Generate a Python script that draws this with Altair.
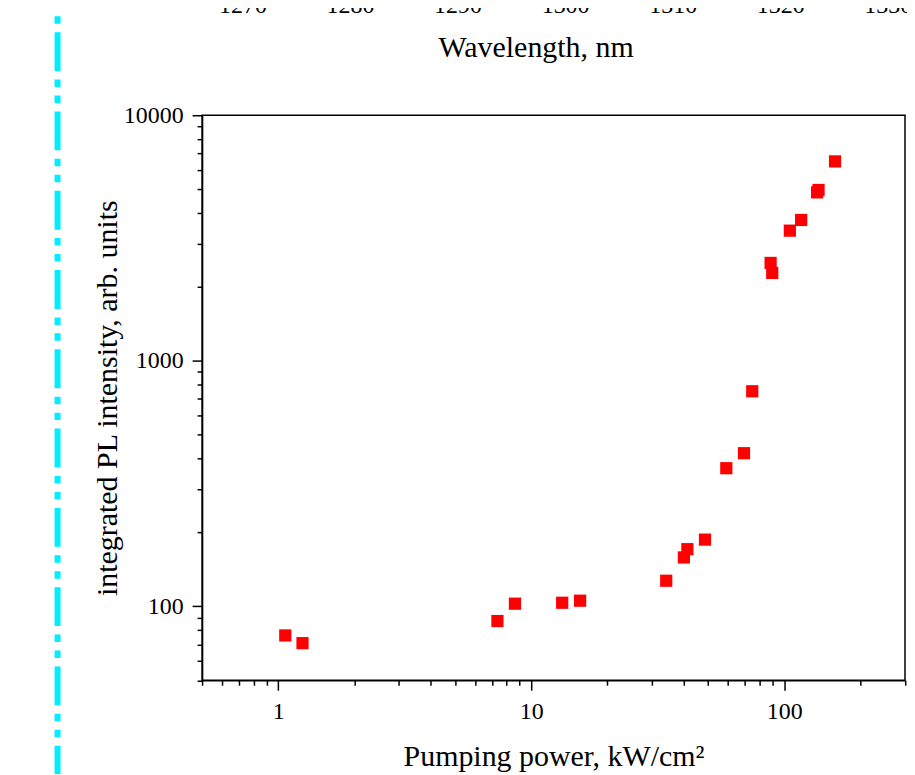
import altair as alt
import pandas as pd

# ---- data ----
power = [1.066, 1.247, 7.35, 8.62, 13.25, 15.60, 34.15, 40.1, 41.4, 48.6,
         59.0, 69.3, 74.7, 88.3, 89.6, 105.2, 116.6, 134.8, 136.6, 158.7]
intensity = [76.1, 70.8, 87.1, 102.5, 103.4, 105.4, 127.1, 158.1, 170.9, 186.9,
             365.1, 420.3, 751.3, 2503, 2279, 3388, 3745, 4851, 4962, 6486]

x_ticks = [0.5, 0.6, 0.7, 0.8, 0.9,
           1, 2, 3, 4, 5, 6, 7, 8, 9,
           10, 20, 30, 40, 50, 60, 70, 80, 90,
           100, 200, 300]
y_ticks = [50, 60, 70, 80, 90,
           100, 200, 300, 400, 500, 600, 700, 800, 900,
           1000, 2000, 3000, 4000, 5000, 6000, 7000, 8000, 9000,
           10000]
wavelength_ticks = [1270, 1280, 1290, 1300, 1310, 1320, 1330]
wavelength_domain = [1266.25, 1331.6]

FONT = "Liberation Serif"
major = "abs(log(datum.value)/LN10 - round(log(datum.value)/LN10)) < 1e-6"

df = pd.DataFrame({"power": power, "intensity": intensity})
wl = pd.DataFrame({"wl": wavelength_ticks})

W, H = 704.8, 566.5

points = alt.Chart(df).mark_square(color="#ff0000", size=150, opacity=1).encode(
    x=alt.X("power:Q",
            scale=alt.Scale(type="log", domain=[0.5, 300], nice=False),
            axis=alt.Axis(values=x_ticks, format="d",
                          labelExpr=f"({major}) ? datum.label : ''",
                          labelOverlap=False, labelFlush=False,
                          tickSize={"condition": {"test": major, "value": 10}, "value": 5},
                          labelPadding=9,
                          title="Pumping power, kW/cm²",
                          titleBaseline="alphabetic", titleY=86)),
    y=alt.Y("intensity:Q",
            scale=alt.Scale(type="log", domain=[50, 10000], nice=False),
            axis=alt.Axis(values=y_ticks, format="d",
                          labelExpr=f"({major}) ? datum.label : ''",
                          labelOverlap=False, labelFlush=False,
                          tickSize={"condition": {"test": major, "value": 10}, "value": 5},
                          labelPadding=9,
                          title="integrated PL intensity, arb. units",
                          titleBaseline="middle", titleX=-95)),
)

wave = alt.Chart(wl).mark_point(opacity=0).encode(
    x=alt.X("wl:Q",
            scale=alt.Scale(domain=wavelength_domain, nice=False, zero=False),
            axis=alt.Axis(orient="top", values=wavelength_ticks, format="d",
                          ticks=False, domain=False, tickSize=0,
                          labelBaseline="alphabetic", labelPadding=103.5,
                          labelFlush=False, labelOverlap=False,
                          title="Wavelength, nm",
                          titleBaseline="alphabetic", titleY=-58.5, titleX=334.4)),
)

cyan = alt.Chart(pd.DataFrame({"a": [0]})).mark_rule(
    color="#00eeff", strokeWidth=6,
    strokeDash=[39, 8.5, 7.5, 8.5, 7.5, 8.5], strokeDashOffset=56.3,
).encode(x=alt.value(-144.9), y=alt.value(-106.5), y2=alt.value(660.5))

chart = alt.layer(points, wave, cyan).resolve_scale(x="independent").properties(
    width=W, height=H,
    padding={"left": 194.6, "top": 106.5, "right": 2, "bottom": 93},
    autosize=alt.AutoSizeParams(type="none"),
).configure_view(
    stroke="black", strokeWidth=1.5
).configure_axis(
    grid=False,
    domainColor="black", domainWidth=1.5,
    tickColor="black", tickWidth=1.5,
    labelFont=FONT, labelFontSize=24, labelColor="black",
    titleFont=FONT, titleFontSize=30, titleColor="black", titleFontWeight="normal",
)

chart.save("out.html", embed_options={"renderer": "svg", "actions": False})
